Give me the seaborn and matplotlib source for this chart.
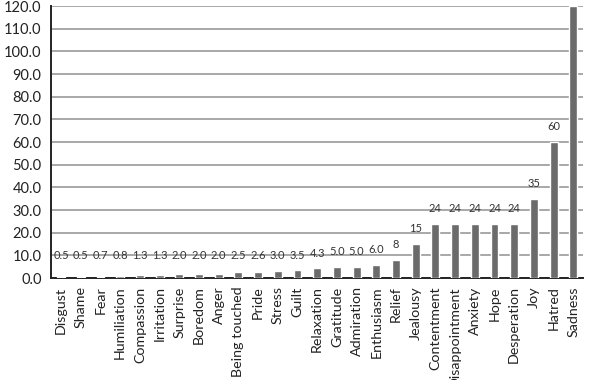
import matplotlib
matplotlib.use("Agg")
import matplotlib.pyplot as plt
import seaborn as sns
import numpy as np

emotions = ["Disgust", "Shame", "Fear", "Humiliation", "Compassion", "Irritation",
            "Surprise", "Boredom", "Anger", "Being touched", "Pride", "Stress",
            "Guilt", "Relaxation", "Gratitude", "Admiration", "Enthusiasm", "Relief",
            "Jealousy", "Contentment", "Disappointment", "Anxiety", "Hope",
            "Desperation", "Joy", "Hatred", "Sadness"]
values = [0.5, 0.5, 0.7, 0.8, 1.3, 1.3, 2.0, 2.0, 2.0, 2.5, 2.6, 3.0, 3.5,
          4.3, 5.0, 5.0, 6.0, 8, 15, 24, 24, 24, 24, 24, 35, 60, 120]
value_labels = ["0.5", "0.5", "0.7", "0.8", "1.3", "1.3", "2.0", "2.0", "2.0",
                "2.5", "2.6", "3.0", "3.5", "4.3", "5.0", "5.0", "6.0", "8", "15",
                "24", "24", "24", "24", "24", "35", "60", ""]
y_ticks = np.arange(0, 121, 10)

sns.set_style("white")
plt.rcParams["font.family"] = ["Lato", "DejaVu Sans"]

fig = plt.figure(figsize=(6.1, 3.8), dpi=100)
ax = fig.add_axes([0.084, 0.268, 0.872, 0.716])

sns.barplot(x=emotions, y=values, color="#6b6b6b", width=0.4, saturation=1, ax=ax, zorder=3)

ax.set_ylim(0, 120)
ax.set_xlim(-0.5, len(emotions) - 0.5)
ax.set_yticks(y_ticks)
ax.set_yticklabels([f"{t:.1f}" for t in y_ticks], fontsize=10.5, color="#222222")
ax.yaxis.grid(True, color="#a8a8a8", linewidth=1.4, zorder=0)
ax.set_axisbelow(True)

ax.set_xticks(range(len(emotions)))
ax.set_xticklabels(emotions, rotation=90, fontsize=10.3, color="#222222")
ax.tick_params(axis="x", which="major", length=0, pad=6)
ax.set_xticks(np.arange(-0.5, len(emotions), 1), minor=True)
ax.tick_params(axis="x", which="minor", length=5, width=1.2, color="#222222", direction="out")
ax.tick_params(axis="y", length=5, width=1.2, color="#222222", direction="out", pad=2)
ax.set_xlabel("")
ax.set_ylabel("")

for s in ["top", "right"]:
    ax.spines[s].set_visible(False)
for s in ["left", "bottom"]:
    ax.spines[s].set_color("#222222")
    ax.spines[s].set_linewidth(1.4)

for i, (v, lab) in enumerate(zip(values, value_labels)):
    if lab:
        ax.annotate(lab, (i, max(v, 3.5)), xytext=(0, 7), textcoords="offset points",
                    ha="center", va="bottom", fontsize=8, color="#333333")

fig.savefig("out.png", dpi=100)
